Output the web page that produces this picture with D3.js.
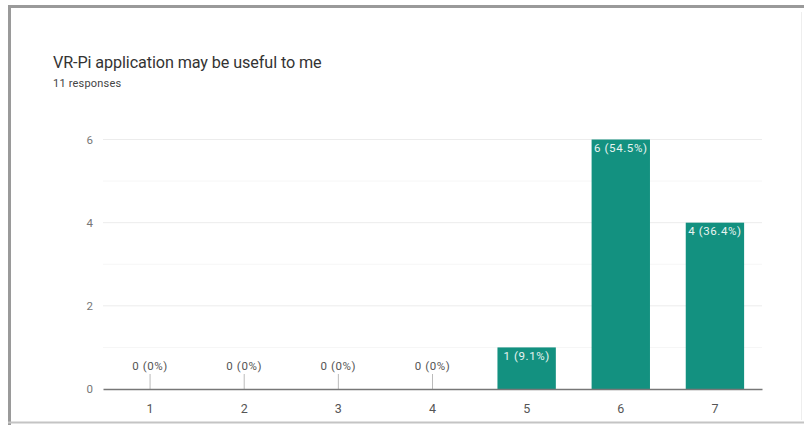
<!DOCTYPE html>
<html>
<head>
<meta charset="utf-8">
<script src="https://cdn.jsdelivr.net/npm/d3@7"></script>
<style>
  html, body { margin: 0; padding: 0; background: #fff; }
  svg { display: block; }
  text { font-family: Roboto, "Noto Sans", Arial, sans-serif; }
</style>
</head>
<body>
<svg id="chart" width="804" height="425"></svg>
<script>
// Survey answers (scale 1–7) and response counts
const categories = ["1", "2", "3", "4", "5", "6", "7"];
const counts = [0, 0, 0, 0, 1, 6, 4];
const percents = ["0%", "0%", "0%", "0%", "9.1%", "54.5%", "36.4%"];
const yTicks = [0, 2, 4, 6];
const yMinorTicks = [1, 3, 5];
const title = "VR-Pi application may be useful to me";
const subtitle = "11 responses";

const svg = d3.select("#chart");
const W = 804, H = 425;

// card frame
svg.append("line").attr("x1", 8).attr("x2", W).attr("y1", 6.5).attr("y2", 6.5)
  .attr("stroke", "#9a9a9a").attr("stroke-width", 3);
svg.append("line").attr("x1", 9.5).attr("x2", 9.5).attr("y1", 5).attr("y2", H)
  .attr("stroke", "#9a9a9a").attr("stroke-width", 3);
svg.append("line").attr("x1", 8).attr("x2", W).attr("y1", 422.5).attr("y2", 422.5)
  .attr("stroke", "#c4c4c4").attr("stroke-width", 2);
svg.append("line").attr("x1", 801.5).attr("x2", 801.5).attr("y1", 12).attr("y2", 420)
  .attr("stroke", "#eeeeee").attr("stroke-width", 1);

svg.append("text").attr("x", 53).attr("y", 68)
  .attr("font-size", 16.2).attr("fill", "#333").attr("letter-spacing", -0.1)
  .text(title);
svg.append("text").attr("x", 53).attr("y", 87)
  .attr("font-size", 11).attr("fill", "#444").attr("letter-spacing", 0.2)
  .text(subtitle);

const margin = { left: 103, right: 762, top: 139.5, bottom: 389 };

const x = d3.scaleBand().domain(categories)
  .range([margin.left, margin.right]).paddingInner(0.38).paddingOuter(0.19);
const y = d3.scaleLinear().domain([0, 6]).range([margin.bottom, margin.top]);

// gridlines
svg.append("g").selectAll("line").data(yMinorTicks).join("line")
  .attr("x1", margin.left).attr("x2", margin.right)
  .attr("y1", d => y(d)).attr("y2", d => y(d))
  .attr("stroke", "#f6f6f6").attr("stroke-width", 1);
svg.append("g").selectAll("line").data(yTicks.filter(d => d > 0)).join("line")
  .attr("x1", margin.left).attr("x2", margin.right)
  .attr("y1", d => y(d)).attr("y2", d => y(d))
  .attr("stroke", "#ececec").attr("stroke-width", 1);

// y axis labels
const yAxis = d3.axisLeft(y).tickValues(yTicks).tickSize(0).tickPadding(10)
  .tickFormat(d3.format("d"));
const gy = svg.append("g").attr("transform", `translate(${margin.left},0)`).call(yAxis);
gy.select(".domain").remove();
gy.selectAll("text").attr("font-size", 11.5).attr("fill", "#777")
  .style("font-family", "Roboto, sans-serif");

// bars
const data = categories.map((c, i) => ({ c, v: counts[i], p: percents[i] }));
svg.append("g").selectAll("rect").data(data.filter(d => d.v > 0)).join("rect")
  .attr("x", d => x(d.c)).attr("width", x.bandwidth())
  .attr("y", d => y(d.v)).attr("height", d => y(0) - y(d.v))
  .attr("fill", "#139180");

// zero-value stems
svg.append("g").selectAll("line").data(data.filter(d => d.v === 0)).join("line")
  .attr("x1", d => x(d.c) + x.bandwidth() / 2).attr("x2", d => x(d.c) + x.bandwidth() / 2)
  .attr("y1", y(0) - 15).attr("y2", y(0))
  .attr("stroke", "#bbb").attr("stroke-width", 1);

// value labels
svg.append("g").selectAll("text").data(data).join("text")
  .attr("x", d => x(d.c) + x.bandwidth() / 2)
  .attr("y", d => d.v > 0 ? y(d.v) + 12.5 : y(0) - 19)
  .attr("text-anchor", "middle")
  .attr("font-size", 11.5).attr("letter-spacing", 0.6)
  .attr("fill", d => d.v > 0 ? "#e8f4f1" : "#555")
  .text(d => `${d.v} (${d.p})`);

// x axis
const xAxis = d3.axisBottom(x).tickSize(0).tickPadding(15);
const gx = svg.append("g").attr("transform", `translate(0,${y(0)})`).call(xAxis);
gx.select(".domain").attr("stroke", "#777").attr("stroke-width", 1.6);
gx.selectAll("text").attr("font-size", 12.5).attr("fill", "#555")
  .style("font-family", "Roboto, sans-serif");
</script>
</body>
</html>
